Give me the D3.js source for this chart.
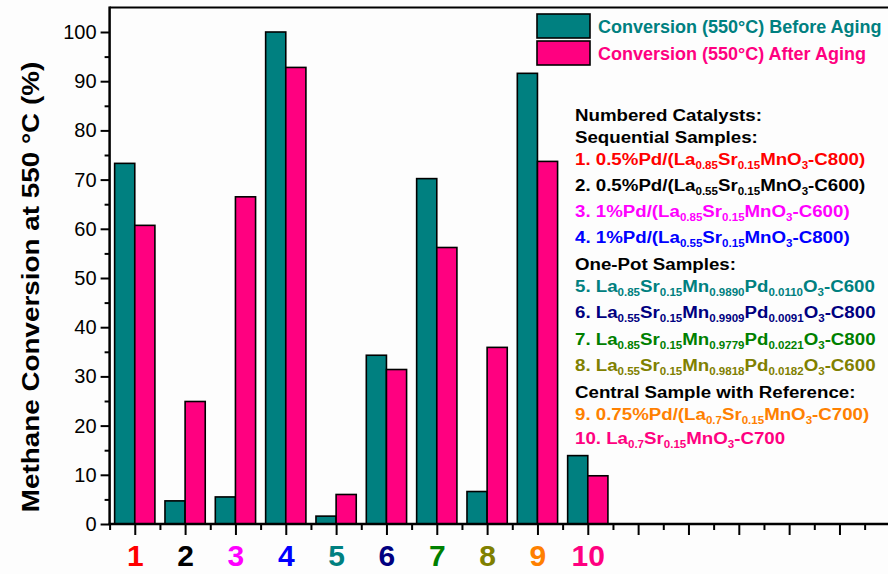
<!DOCTYPE html>
<html>
<head>
<meta charset="utf-8">
<script src="https://cdn.jsdelivr.net/npm/d3@7"></script>
<style>
  html, body { margin: 0; padding: 0; background: #fff; }
  svg { display: block; font-family: "Liberation Sans", Arial, sans-serif; }
</style>
</head>
<body>
<svg id="chart" width="888" height="574"></svg>
<script>
// ---------------- data ----------------
const categories = ["1", "2", "3", "4", "5", "6", "7", "8", "9", "10"];
const beforeAging = [73.3, 4.7, 5.5, 100, 1.6, 34.3, 70.2, 6.6, 91.6, 13.9];
const afterAging  = [60.7, 24.9, 66.5, 92.8, 6.0, 31.4, 56.2, 35.9, 73.7, 9.8];
const categoryColors = ["#FF0000", "#000000", "#FF00FF", "#0000FF", "#008080",
                        "#000080", "#008000", "#808000", "#FF8000", "#FF0080"];
const seriesNames = ["Conversion (550°C) Before Aging", "Conversion (550°C) After Aging"];
const seriesColors = ["#008080", "#FF0080"];
const yMajorTicks = [0, 10, 20, 30, 40, 50, 60, 70, 80, 90, 100];
const yMinorTicks = [5, 15, 25, 35, 45, 55, 65, 75, 85, 95];
const yTitle = "Methane Conversion at 550 °C (%)";
const noteLines = [
  { text: "Numbered Catalysts:", color: "#000000" },
  { text: "Sequential Samples:", color: "#000000" },
  { text: "1. 0.5%Pd/(La_{0.85}Sr_{0.15}MnO_{3}-C800)", color: "#FF0000" },
  { text: "2. 0.5%Pd/(La_{0.55}Sr_{0.15}MnO_{3}-C600)", color: "#000000" },
  { text: "3. 1%Pd/(La_{0.85}Sr_{0.15}MnO_{3}-C600)", color: "#FF00FF" },
  { text: "4. 1%Pd/(La_{0.55}Sr_{0.15}MnO_{3}-C800)", color: "#0000FF" },
  { text: "One-Pot Samples:", color: "#000000" },
  { text: "5. La_{0.85}Sr_{0.15}Mn_{0.9890}Pd_{0.0110}O_{3}-C600", color: "#008080" },
  { text: "6. La_{0.55}Sr_{0.15}Mn_{0.9909}Pd_{0.0091}O_{3}-C800", color: "#000080" },
  { text: "7. La_{0.85}Sr_{0.15}Mn_{0.9779}Pd_{0.0221}O_{3}-C800", color: "#008000" },
  { text: "8. La_{0.55}Sr_{0.15}Mn_{0.9818}Pd_{0.0182}O_{3}-C600", color: "#808000" },
  { text: "Central Sample with Reference:", color: "#000000" },
  { text: "9. 0.75%Pd/(La_{0.7}Sr_{0.15}MnO_{3}-C700)", color: "#FF8000" },
  { text: "10. La_{0.7}Sr_{0.15}MnO_{3}-C700", color: "#FF0080" }
];

// ---------------- layout ----------------
const svg = d3.select("#chart");
const plot = { left: 109.6, right: 889.8, top: 7.4, bottom: 524 };

const x = d3.scaleLinear().domain([0.5, 16]).range([plot.left, plot.right]);
const y = d3.scaleLinear().domain([0, 105]).range([plot.bottom, plot.top]);
const barW = 0.4;

svg.append("rect").attr("width", 888).attr("height", 574).attr("fill", "#fdfdfd");

svg.append("line")
  .attr("x1", plot.left).attr("x2", plot.right)
  .attr("y1", plot.top).attr("y2", plot.top)
  .attr("stroke", "#000").attr("stroke-width", 2);

// bars
const groups = svg.append("g");
categories.forEach((c, i) => {
  const xc = +c;
  groups.append("rect")
    .attr("x", x(xc - barW)).attr("width", x(xc) - x(xc - barW))
    .attr("y", y(beforeAging[i])).attr("height", y(0) - y(beforeAging[i]))
    .attr("fill", seriesColors[0]).attr("stroke", "#000").attr("stroke-width", 1.6);
  groups.append("rect")
    .attr("x", x(xc)).attr("width", x(xc + barW) - x(xc))
    .attr("y", y(afterAging[i])).attr("height", y(0) - y(afterAging[i]))
    .attr("fill", seriesColors[1]).attr("stroke", "#000").attr("stroke-width", 1.6);
});

// y axis
const gy = svg.append("g").attr("transform", `translate(${plot.left},0)`)
  .call(d3.axisLeft(y).tickValues(yMajorTicks).tickSize(9).tickPadding(4));
gy.select(".domain").attr("stroke-width", 2.5).attr("d", `M0,${plot.bottom}V${plot.top - 1}`);
gy.selectAll(".tick line").attr("stroke-width", 2);
gy.selectAll(".tick text").attr("font-size", 20).attr("fill", "#000")
  .attr("font-family", "'Liberation Sans', Arial, sans-serif");
const gyMinor = svg.append("g").attr("transform", `translate(${plot.left},0)`)
  .call(d3.axisLeft(y).tickValues(yMinorTicks).tickSize(5).tickFormat(""));
gyMinor.select(".domain").remove();
gyMinor.selectAll(".tick line").attr("stroke-width", 2);

// x axis
const xMajor = d3.range(1, 16);
const xMinor = d3.range(0.5, 16, 1);
const gx = svg.append("g").attr("transform", `translate(0,${plot.bottom})`)
  .call(d3.axisBottom(x).tickValues(xMajor).tickSize(11).tickPadding(10)
    .tickFormat(d => d <= categories.length ? categories[d - 1] : ""));
gx.select(".domain").attr("stroke-width", 2.5).attr("d", `M${plot.left - 1},0H${plot.right}`);
gx.selectAll(".tick line").attr("stroke-width", 2);
gx.selectAll(".tick text")
  .attr("font-size", 30).attr("font-weight", "bold")
  .attr("font-family", "'Liberation Sans', Arial, sans-serif")
  .attr("fill", d => d <= categories.length ? categoryColors[d - 1] : "#000");
const gxMinor = svg.append("g").attr("transform", `translate(0,${plot.bottom})`)
  .call(d3.axisBottom(x).tickValues(xMinor).tickSize(6).tickFormat(""));
gxMinor.select(".domain").remove();
gxMinor.selectAll(".tick line").attr("stroke-width", 2);

// y title (wide bold face, stretched along its length)
svg.append("text")
  .attr("transform", "translate(39,287) rotate(-90) scale(1.16,1)")
  .attr("text-anchor", "middle")
  .attr("font-size", 24).attr("font-weight", "bold").attr("fill", "#000")
  .text(yTitle);

// legend
const legendBoxes = [{ y: 14 }, { y: 41 }];
seriesNames.forEach((name, i) => {
  svg.append("rect")
    .attr("x", 537).attr("y", legendBoxes[i].y).attr("width", 53).attr("height", 24)
    .attr("fill", seriesColors[i]).attr("stroke", "#000").attr("stroke-width", 1.6);
  svg.append("text")
    .attr("x", 598).attr("y", legendBoxes[i].y + 19)
    .attr("font-size", 18).attr("font-weight", "bold").attr("fill", seriesColors[i])
    .text(name);
});

// annotation block with subscripts
const noteY = [121, 143, 165, 191, 217, 243, 270, 292, 318, 345, 371, 398, 420, 444];
noteLines.forEach((ln, i) => {
  const t = svg.append("text")
    .attr("transform", `translate(575,${noteY[i]}) scale(1.1,1)`)
    .attr("font-size", 17).attr("font-weight", "bold").attr("fill", ln.color);
  const parts = ln.text.split(/(_\{[^}]*\})/).filter(s => s.length);
  let lowered = false;
  parts.forEach(p => {
    if (p.startsWith("_{")) {
      t.append("tspan").attr("dy", 4).attr("font-size", 10.5).text(p.slice(2, -1));
      lowered = true;
    } else {
      const sp = t.append("tspan").text(p);
      if (lowered) { sp.attr("dy", -4); lowered = false; }
    }
  });
});
</script>
</body>
</html>
